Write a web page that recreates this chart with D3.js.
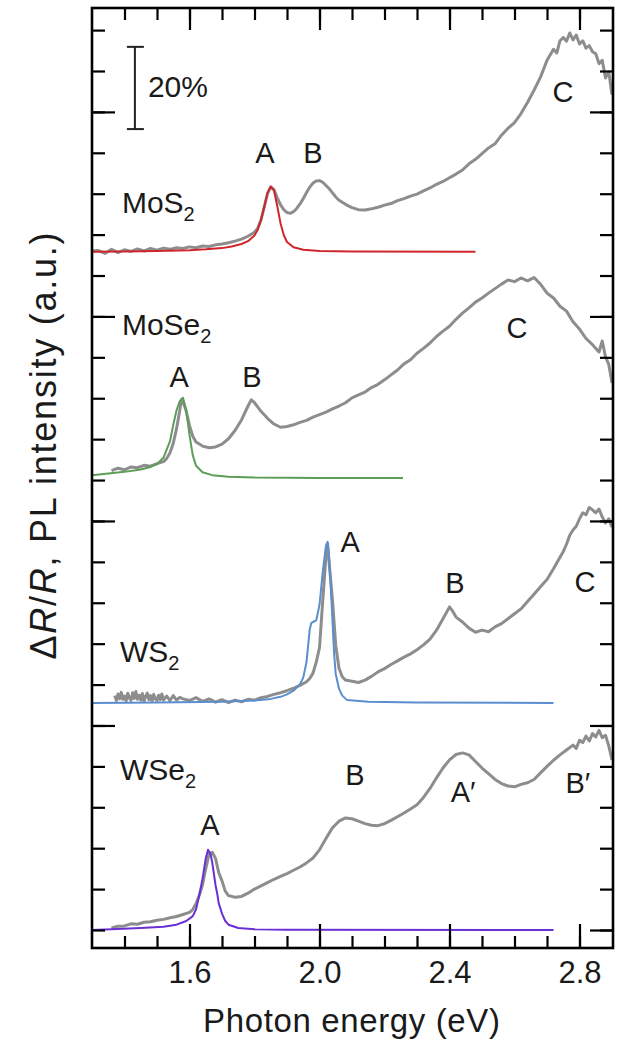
<!DOCTYPE html>
<html>
<head>
<meta charset="utf-8">
<script src="https://cdn.jsdelivr.net/npm/d3@7"></script>
<style>
  body { margin: 0; background: #fff; }
  svg { font-family: "Liberation Sans", Arial, sans-serif; }
</style>
</head>
<body>
<svg id="chart" width="627" height="1043"></svg>
<script>
// materials, top to bottom, and the vertical offset (in % units) of each baseline
var materials = ["MoS2", "MoSe2", "WS2", "WSe2"];
var offsets = [165.8, 110.5, 55.5, 0];
var plColors = ["#d0262b", "#5c9e58", "#5b8ecf", "#6b2fd6"];

// reflection contrast dR/R (%) vs photon energy (eV)
var mos2Refl = [[1.30,0.2],[1.32,0.3],[1.34,-0.4],[1.36,0.6],[1.38,-0.2],[1.40,0.5],[1.42,0.1],[1.44,0.7],[1.46,0.2],[1.48,0.8],[1.50,0.4],[1.52,0.9],[1.54,0.6],[1.56,1.0],[1.58,0.8],[1.60,1.2],[1.62,1.0],[1.64,1.4],[1.66,1.3],[1.68,1.7],[1.70,1.9],[1.72,2.2],[1.74,2.6],[1.76,3.1],[1.78,3.8],[1.80,4.8],[1.81,5.8],[1.82,7.8],[1.83,11.0],[1.84,14.2],[1.85,15.9],[1.86,15.2],[1.87,13.2],[1.88,11.5],[1.89,10.3],[1.90,9.6],[1.91,9.4],[1.92,9.8],[1.93,10.6],[1.94,11.7],[1.95,13.0],[1.96,14.5],[1.97,15.8],[1.98,16.8],[1.99,17.3],[2.00,17.4],[2.01,17.0],[2.02,16.2],[2.03,15.4],[2.04,14.4],[2.05,13.4],[2.06,12.6],[2.08,11.6],[2.10,10.8],[2.12,10.3],[2.14,10.2],[2.16,10.5],[2.18,10.9],[2.20,11.4],[2.22,11.8],[2.24,12.5],[2.26,13.0],[2.28,13.6],[2.30,14.1],[2.32,14.9],[2.34,15.6],[2.36,16.5],[2.38,17.2],[2.40,18.1],[2.42,19.0],[2.44,20.0],[2.46,21.5],[2.48,22.6],[2.50,24.0],[2.52,25.4],[2.54,26.4],[2.56,28.5],[2.58,30.2],[2.60,31.6],[2.62,33.8],[2.64,36.5],[2.66,39.5],[2.68,42.7],[2.70,46.8],[2.72,49.5],[2.73,48.6],[2.74,51.6],[2.75,52.4],[2.76,51.5],[2.77,53.5],[2.78,51.8],[2.79,53.0],[2.80,50.8],[2.81,51.6],[2.82,49.8],[2.83,50.4],[2.84,48.9],[2.85,48.4],[2.86,46.0],[2.87,46.8],[2.88,42.5],[2.89,44.0],[2.90,38.4]];
var mose2Refl = [[1.36,1.8],[1.38,2.4],[1.40,2.0],[1.42,2.7],[1.44,2.5],[1.46,3.1],[1.48,2.9],[1.50,3.5],[1.52,4.0],[1.53,4.8],[1.54,6.2],[1.55,8.5],[1.56,12.0],[1.57,16.5],[1.575,19.1],[1.58,18.7],[1.59,16.3],[1.60,12.8],[1.61,10.2],[1.62,8.8],[1.64,7.8],[1.66,7.4],[1.68,7.6],[1.70,8.3],[1.72,9.6],[1.74,11.6],[1.76,14.2],[1.78,17.6],[1.79,19.1],[1.80,18.4],[1.82,16.3],[1.84,14.6],[1.86,13.2],[1.88,12.4],[1.90,12.6],[1.92,13.0],[1.94,13.6],[1.96,14.1],[1.98,14.9],[2.00,15.5],[2.02,16.1],[2.04,16.9],[2.06,17.6],[2.08,18.4],[2.10,19.6],[2.12,20.3],[2.14,21.0],[2.16,22.1],[2.18,22.9],[2.20,24.0],[2.22,25.2],[2.24,26.4],[2.26,27.9],[2.28,28.9],[2.30,30.5],[2.32,31.7],[2.34,33.0],[2.36,34.6],[2.38,35.9],[2.40,37.1],[2.42,38.8],[2.44,40.3],[2.46,41.6],[2.48,43.0],[2.50,44.0],[2.52,45.2],[2.54,46.3],[2.56,47.4],[2.58,48.4],[2.60,48.0],[2.62,48.9],[2.64,48.2],[2.66,49.0],[2.68,47.4],[2.70,45.2],[2.72,44.0],[2.74,42.0],[2.76,40.8],[2.78,38.2],[2.80,36.4],[2.82,34.1],[2.84,32.6],[2.86,30.8],[2.87,33.5],[2.88,29.6],[2.89,27.8],[2.90,23.2]];
var ws2Refl = [[1.37,1.8],[1.375,0.6],[1.38,2.2],[1.385,1.0],[1.39,2.6],[1.395,0.9],[1.40,1.7],[1.405,0.5],[1.41,2.4],[1.415,1.2],[1.42,0.6],[1.425,2.5],[1.43,1.1],[1.435,2.8],[1.44,0.9],[1.445,1.9],[1.45,0.7],[1.455,2.3],[1.46,0.4],[1.465,1.6],[1.47,2.4],[1.475,0.8],[1.48,1.8],[1.485,0.5],[1.49,2.1],[1.495,1.0],[1.50,0.6],[1.505,1.9],[1.51,0.8],[1.515,2.2],[1.52,0.7],[1.53,1.7],[1.54,0.6],[1.55,1.8],[1.56,0.7],[1.57,1.4],[1.58,1.0],[1.60,0.6],[1.62,1.3],[1.64,0.4],[1.66,1.0],[1.68,0.2],[1.70,0.8],[1.72,0.1],[1.74,0.7],[1.76,0.3],[1.78,0.9],[1.80,0.7],[1.82,1.3],[1.84,1.6],[1.86,2.1],[1.88,2.5],[1.90,3.0],[1.92,3.6],[1.94,4.3],[1.96,5.2],[1.97,6.0],[1.98,7.3],[1.99,10.0],[2.00,13.5],[2.01,25.0],[2.02,36.0],[2.025,38.9],[2.03,34.0],[2.04,25.0],[2.05,14.0],[2.06,8.5],[2.07,6.4],[2.08,5.6],[2.10,5.3],[2.12,5.0],[2.14,5.6],[2.16,6.5],[2.18,7.6],[2.20,8.4],[2.22,9.4],[2.24,10.3],[2.26,11.2],[2.28,12.0],[2.30,13.0],[2.32,14.2],[2.34,15.6],[2.36,17.8],[2.38,20.6],[2.40,23.5],[2.41,22.4],[2.42,21.0],[2.44,19.8],[2.46,18.3],[2.48,17.3],[2.50,17.8],[2.52,17.4],[2.54,18.6],[2.56,19.4],[2.58,20.6],[2.60,21.8],[2.62,23.0],[2.64,24.8],[2.66,26.6],[2.68,28.4],[2.70,30.2],[2.72,32.8],[2.74,35.6],[2.75,37.0],[2.76,38.8],[2.77,41.0],[2.78,42.3],[2.79,43.2],[2.80,45.0],[2.81,46.5],[2.82,46.0],[2.83,47.8],[2.84,47.2],[2.85,46.5],[2.86,47.4],[2.87,45.5],[2.88,44.0],[2.89,45.0],[2.90,43.0]];
var wse2Refl = [[1.36,0.5],[1.38,0.9],[1.40,1.0],[1.42,1.5],[1.44,1.4],[1.46,1.9],[1.48,2.0],[1.50,2.4],[1.52,2.6],[1.54,3.0],[1.56,3.3],[1.58,3.8],[1.60,4.3],[1.61,5.0],[1.62,6.4],[1.63,8.5],[1.64,11.0],[1.65,15.0],[1.66,18.5],[1.67,19.0],[1.68,17.5],[1.69,14.0],[1.70,12.0],[1.71,9.5],[1.72,8.4],[1.74,8.0],[1.76,8.2],[1.78,9.0],[1.80,10.0],[1.82,10.8],[1.84,11.6],[1.86,12.4],[1.88,13.1],[1.90,13.8],[1.92,14.6],[1.94,15.4],[1.96,16.4],[1.98,17.6],[2.00,19.6],[2.02,22.4],[2.04,25.0],[2.06,26.6],[2.08,27.4],[2.10,27.2],[2.12,26.6],[2.14,26.0],[2.16,25.6],[2.18,25.5],[2.20,26.0],[2.22,26.8],[2.24,27.7],[2.26,28.6],[2.28,29.6],[2.30,30.6],[2.32,32.4],[2.34,34.6],[2.36,37.2],[2.38,39.6],[2.40,41.6],[2.42,42.9],[2.44,43.3],[2.46,42.8],[2.48,41.2],[2.50,39.6],[2.52,38.2],[2.54,36.8],[2.56,35.8],[2.58,35.2],[2.60,35.0],[2.62,35.6],[2.64,36.0],[2.66,36.8],[2.68,38.4],[2.70,40.0],[2.72,41.5],[2.74,42.8],[2.76,44.0],[2.78,45.2],[2.79,44.4],[2.80,46.4],[2.81,45.8],[2.82,47.4],[2.83,46.2],[2.84,48.0],[2.85,47.2],[2.86,48.8],[2.87,47.0],[2.88,47.6],[2.89,45.0],[2.90,41.6]];

// photoluminescence (a.u., same scale) vs photon energy (eV)
var mos2PL = [[1.30,0],[1.40,0.1],[1.50,0.2],[1.60,0.4],[1.65,0.6],[1.70,0.9],[1.73,1.3],[1.76,1.9],[1.78,2.6],[1.80,4.0],[1.81,5.4],[1.82,7.8],[1.83,11.0],[1.84,14.4],[1.85,15.9],[1.86,15.0],[1.87,11.2],[1.88,7.0],[1.89,4.1],[1.90,2.4],[1.92,1.1],[1.95,0.5],[2.00,0.2],[2.10,0.05],[2.48,0]];
var mose2PL = [[1.30,0.7],[1.35,1.1],[1.40,1.5],[1.45,2.1],[1.48,2.7],[1.50,3.4],[1.52,5.0],[1.54,9.0],[1.55,13.0],[1.56,16.5],[1.57,18.8],[1.58,19.6],[1.59,16.5],[1.60,10.5],[1.61,5.6],[1.62,3.0],[1.64,1.4],[1.67,0.7],[1.72,0.3],[1.80,0.1],[2.00,0],[2.257,0]];
var ws2PL = [[1.30,0],[1.50,0.1],[1.70,0.3],[1.80,0.6],[1.85,1.0],[1.88,1.5],[1.90,2.1],[1.92,3.0],[1.94,4.6],[1.95,6.2],[1.96,10.0],[1.965,14.0],[1.97,18.0],[1.975,19.6],[1.98,19.8],[1.99,20.2],[2.00,24.0],[2.01,32.0],[2.02,38.5],[2.025,39.4],[2.03,35.0],[2.035,28.0],[2.04,20.0],[2.045,12.0],[2.05,7.0],[2.06,3.5],[2.07,1.8],[2.085,0.7],[2.15,0.3],[2.30,0.1],[2.72,0]];
var wse2PL = [[1.30,0],[1.36,0.2],[1.45,0.5],[1.52,0.8],[1.56,1.3],[1.59,2.2],[1.61,3.4],[1.62,5.0],[1.63,8.5],[1.635,10.5],[1.64,12.5],[1.645,15.0],[1.65,17.5],[1.657,19.6],[1.665,18.5],[1.67,16.5],[1.68,11.0],[1.685,9.0],[1.69,6.5],[1.70,4.0],[1.71,2.2],[1.72,1.3],[1.75,0.5],[1.80,0.2],[1.90,0.05],[2.72,0]];

var reflData = [mos2Refl, mose2Refl, ws2Refl, wse2Refl];
var plData = [mos2PL, mose2PL, ws2PL, wse2PL];

// peak labels: [text, energy (eV), height (%)]
var peakLabels = [
  ["A", 1.832, 187.5], ["B", 1.980, 187.5], ["C", 2.749, 202.4],
  ["A", 1.568, 132.8], ["B", 1.792, 132.8], ["C", 2.608, 144.7],
  ["A", 2.094, 92.4], ["B", 2.417, 82.4], ["C", 2.817, 82.6],
  ["A", 1.663, 23.2], ["B", 2.109, 35.5], ["A\u2032", 2.442, 31.3], ["B\u2032", 2.795, 33.5]
];
// material name labels: [formula, subscript, energy, height]
var nameLabels = [["MoS", "2", 1.392, 175.3], ["MoSe", "2", 1.392, 145.5], ["WS", "2", 1.386, 65.5], ["WSe", "2", 1.386, 36.7]];

var xTickMajor = [1.6, 2.0, 2.4, 2.8];
var xTickMinor = d3.range(14, 29).map(function(d) { return d / 10; });
var yTickMajor = [0, 50, 100, 150, 200];
var yTickMinor = d3.range(0, 221, 10);

var mLeft = 92, mRight = 613, mTop = 8, mBottom = 948;

var x = d3.scaleLinear().domain([1.3, 2.9]).range([mLeft, mRight - 1]);
var y = d3.scaleLinear().domain([-4.4, 225.4]).range([mBottom, mTop]);

var svg = d3.select("#chart");

var plot = svg.append("g");
var line = d3.line()
  .x(function(d) { return x(d[0]); });

reflData.forEach(function(series, i) {
  plot.append("path")
    .datum(series)
    .attr("d", line.y(function(d) { return y(d[1] + offsets[i]); }))
    .attr("fill", "none")
    .attr("stroke", "#8d8d8d")
    .attr("stroke-width", 3)
    .attr("stroke-linejoin", "round");
});
plData.forEach(function(series, i) {
  plot.append("path")
    .datum(series)
    .attr("d", line.y(function(d) { return y(d[1] + offsets[i]); }))
    .attr("fill", "none")
    .attr("stroke", plColors[i])
    .attr("stroke-width", 2)
    .attr("stroke-linejoin", "round");
});

// axes: ticks point inward on all four sides
function styleAxis(g) {
  g.select(".domain").remove();
  g.selectAll(".tick line").attr("stroke", "#000").attr("stroke-width", 2.2);
}
svg.append("g").attr("transform", "translate(0," + mBottom + ")")
  .call(d3.axisBottom(x).tickValues(xTickMinor).tickSize(-12).tickFormat(""))
  .call(styleAxis);
svg.append("g").attr("transform", "translate(0," + mBottom + ")")
  .call(d3.axisBottom(x).tickValues(xTickMajor).tickSize(-24).tickPadding(13).tickFormat(d3.format(".1f")))
  .call(styleAxis)
  .selectAll("text").attr("font-size", 31).attr("fill", "#1a1a1a")
  .attr("font-family", "Liberation Sans, Arial, sans-serif");
svg.append("g").attr("transform", "translate(0," + mTop + ")")
  .call(d3.axisTop(x).tickValues(xTickMinor).tickSize(-12).tickFormat(""))
  .call(styleAxis);
svg.append("g").attr("transform", "translate(0," + mTop + ")")
  .call(d3.axisTop(x).tickValues(xTickMajor).tickSize(-22).tickFormat(""))
  .call(styleAxis);
svg.append("g").attr("transform", "translate(" + mLeft + ",0)")
  .call(d3.axisLeft(y).tickValues(yTickMinor).tickSize(-13).tickFormat(""))
  .call(styleAxis);
svg.append("g").attr("transform", "translate(" + mLeft + ",0)")
  .call(d3.axisLeft(y).tickValues(yTickMajor.slice(1)).tickSize(-23).tickFormat(""))
  .call(styleAxis);
svg.append("g").attr("transform", "translate(" + mRight + ",0)")
  .call(d3.axisRight(y).tickValues(yTickMinor).tickSize(-13).tickFormat(""))
  .call(styleAxis);
svg.append("g").attr("transform", "translate(" + mRight + ",0)")
  .call(d3.axisRight(y).tickValues(yTickMajor).tickSize(-23).tickFormat(""))
  .call(styleAxis);

svg.append("rect")
  .attr("x", mLeft).attr("y", mTop)
  .attr("width", mRight - mLeft).attr("height", mBottom - mTop)
  .attr("fill", "none").attr("stroke", "#000").attr("stroke-width", 2.6);

// axis titles
svg.append("text")
  .attr("x", 351.5).attr("y", 1032)
  .attr("text-anchor", "middle").attr("font-size", 33).attr("fill", "#1a1a1a")
  .attr("textLength", 297).attr("lengthAdjust", "spacing")
  .text("Photon energy (eV)");

var yTitle = svg.append("text")
  .attr("transform", "translate(56,446) rotate(-90)")
  .attr("text-anchor", "middle").attr("font-size", 36).attr("fill", "#1a1a1a")
  .attr("textLength", 427).attr("lengthAdjust", "spacing");
yTitle.append("tspan").text("\u0394");
yTitle.append("tspan").attr("font-style", "italic").text("R");
yTitle.append("tspan").text("/");
yTitle.append("tspan").attr("font-style", "italic").text("R");
yTitle.append("tspan").text(", PL intensity (a.u.)");

// 20% scale bar
var bar = svg.append("g").attr("stroke", "#222").attr("stroke-width", 2);
bar.append("line").attr("x1", x(1.432)).attr("x2", x(1.432)).attr("y1", y(195.8)).attr("y2", y(215.9));
bar.append("line").attr("x1", x(1.432) - 8).attr("x2", x(1.432) + 9).attr("y1", y(195.8)).attr("y2", y(195.8));
bar.append("line").attr("x1", x(1.432) - 8).attr("x2", x(1.432) + 9).attr("y1", y(215.9)).attr("y2", y(215.9));
svg.append("text").attr("x", x(1.472)).attr("y", y(203.7))
  .attr("font-size", 30).attr("fill", "#1a1a1a").text("20%");

// peak labels
svg.selectAll("text.peak").data(peakLabels).enter().append("text")
  .attr("class", "peak")
  .attr("x", function(d) { return x(d[1]); })
  .attr("y", function(d) { return y(d[2]); })
  .attr("text-anchor", "middle").attr("font-size", 29).attr("fill", "#1a1a1a")
  .text(function(d) { return d[0]; });

// material labels with subscripts
var names = svg.selectAll("text.name").data(nameLabels).enter().append("text")
  .attr("class", "name")
  .attr("x", function(d) { return x(d[2]); })
  .attr("y", function(d) { return y(d[3]); })
  .attr("font-size", 30).attr("fill", "#1a1a1a");
names.append("tspan").text(function(d) { return d[0]; });
names.append("tspan").attr("font-size", 20).attr("dy", 8).text(function(d) { return d[1]; });
</script>
</body>
</html>
